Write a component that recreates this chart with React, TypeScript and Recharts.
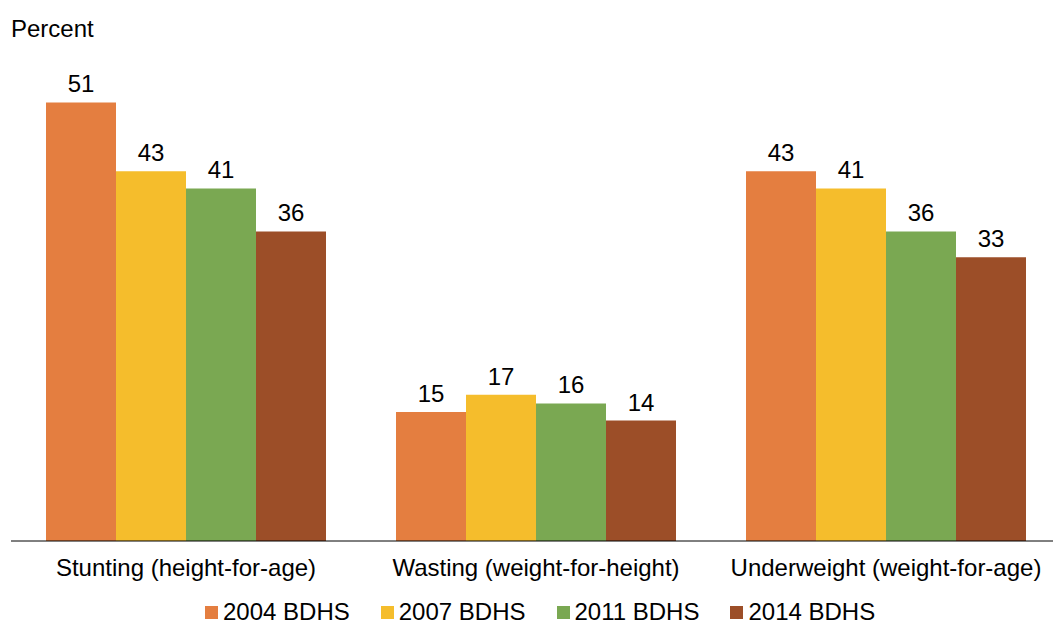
import { BarChart, Bar, XAxis, YAxis, Legend, LabelList } from "recharts"

const categories = ["Stunting (height-for-age)", "Wasting (weight-for-height)", "Underweight (weight-for-age)"]
const seriesNames = ["2004 BDHS", "2007 BDHS", "2011 BDHS", "2014 BDHS"]
const bdhs2004 = [51, 15, 43]
const bdhs2007 = [43, 17, 41]
const bdhs2011 = [41, 16, 36]
const bdhs2014 = [36, 14, 33]
const colors = ["#E47E40", "#F5BD2C", "#7AA852", "#9C4E28"]

const seriesValues = [bdhs2004, bdhs2007, bdhs2011, bdhs2014]

const data = categories.map((name, i) => {
  const row: Record<string, string | number> = { name }
  seriesNames.forEach((s, j) => {
    row[s] = seriesValues[j][i]
  })
  return row
})

const FONT = "'Liberation Sans', Arial, sans-serif"

function CategoryTick({ x, y, payload }: any) {
  return (
    <text x={x} y={y} dy={35} textAnchor="middle" fill="#000" fontSize={24} fontFamily={FONT}>
      {payload.value}
    </text>
  )
}

function LegendContent({ payload }: any) {
  return (
    <div style={{ display: "flex", alignItems: "center", height: 24, paddingLeft: 205, fontSize: 24, lineHeight: "24px" }}>
      {(payload || []).map((entry: any) => (
        <div key={entry.value} style={{ display: "flex", alignItems: "center", marginRight: 31, whiteSpace: "nowrap" }}>
          <span style={{ width: 13, height: 13, background: entry.color, marginRight: 5, display: "inline-block" }} />
          <span style={{ color: "#000" }}>{entry.value}</span>
        </div>
      ))}
    </div>
  )
}

export default function App() {
  return (
    <div
      style={{
        position: "fixed",
        left: 0,
        top: 0,
        width: 1053,
        height: 624,
        overflow: "hidden",
        background: "#fff",
        fontFamily: FONT,
      }}
    >
      <div style={{ position: "absolute", left: 11, top: 17, fontSize: 24, lineHeight: "24px", color: "#000" }}>
        Percent
      </div>
      <BarChart
        width={1061}
        height={624}
        data={data}
        margin={{ top: 25, right: 0, bottom: 0, left: 11 }}
        barCategoryGap="10%"
        barGap={0}
      >
        <XAxis
          dataKey="name"
          axisLine={{ stroke: "#000", strokeWidth: 1 }}
          tickLine={false}
          tickSize={0}
          tickMargin={0}
          height={59}
          interval={0}
          tick={<CategoryTick />}
        />
        <YAxis hide domain={[0, 60]} />
        <Legend
          verticalAlign="bottom"
          content={<LegendContent />}
          wrapperStyle={{ left: 0, top: 600, width: 1053, height: 24 }}
        />
        {seriesNames.map((s, j) => (
          <Bar key={s} dataKey={s} fill={colors[j]} isAnimationActive={false}>
            <LabelList dataKey={s} position="top" offset={10} fill="#000" fontSize={24} fontFamily={FONT} />
          </Bar>
        ))}
      </BarChart>
    </div>
  )
}
